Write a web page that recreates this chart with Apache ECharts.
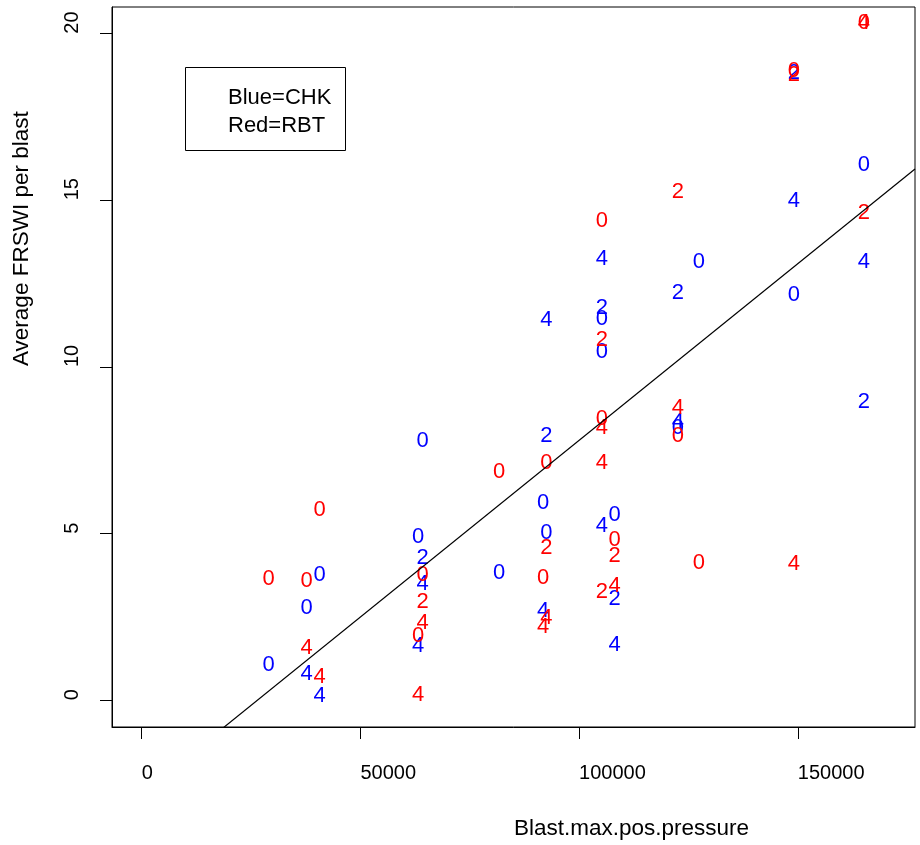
<!DOCTYPE html>
<html><head><meta charset="utf-8">
<script src="https://cdn.jsdelivr.net/npm/echarts@6/dist/echarts.min.js"></script>
<style>html,body{margin:0;padding:0;background:#fff}#c{width:920px;height:845px}</style>
</head><body><div id="c"></div>
<script>
// ---- data (Blue = CHK, Red = RBT); text label = distance code ----
const chkX = [27600,36300,39300,36300,39300,62800,61800,62800,62800,61800,80300,90400,91100,91100,91100,90400,103800,103800,103800,103800,103800,106700,106700,106700,121200,121200,121200,126000,147700,147700,147700,163700,163700,163700];
const chkY = [1.10,2.82,3.80,0.84,0.18,7.82,4.95,4.32,3.53,1.68,3.87,5.97,5.06,7.98,11.45,2.73,13.29,11.81,11.49,10.50,5.28,5.61,3.09,1.70,12.27,8.40,8.21,13.20,18.87,15.02,12.20,16.10,13.20,9.00];
const chkLab = ['0','0','0','4','4','0','0','2','4','4','0','0','0','2','4','4','4','2','0','0','4','0','2','4','2','4','0','0','2','4','0','0','4','2'];

const rbtX = [27600,36300,36300,39300,39300,62800,62800,62800,61800,61800,80300,91100,91100,90400,91100,90400,103800,103800,103800,103800,103800,103800,106700,106700,106700,121200,121200,121200,126000,147700,147700,147700,163700,163700,163700];
const rbtY = [3.70,3.62,1.62,5.75,0.75,3.80,3.00,2.37,1.97,0.20,6.89,7.16,4.62,3.71,2.51,2.25,14.42,10.85,8.49,8.22,7.16,3.29,4.85,4.38,3.48,15.30,8.81,7.97,4.16,18.93,18.81,4.14,20.38,20.36,14.67];
const rbtLab = ['0','0','4','0','4','0','2','4','0','4','0','0','2','0','4','4','0','2','0','4','4','2','0','2','4','2','4','0','0','0','2','4','0','4','2'];

// fitted line (abline) coefficients
const lineIntercept = -2.80;
const lineSlope = 1.06e-4;

// axes
const xTicks = [0, 50000, 100000, 150000];
const yTicks = [0, 5, 10, 15, 20];
const xMin = -6800, xMax = 176800;
const yMin = -0.8, yMax = 20.8;

const FONT = "'Liberation Sans', Arial, Helvetica, sans-serif";

function pts(xs, ys, labs) { return xs.map((x, i) => [x, ys[i], labs[i]]); }

function textSeries(name, data, color) {
  return {
    name, type: 'scatter', data,
    symbol: 'circle', symbolSize: 1,
    itemStyle: { color: 'rgba(0,0,0,0)' },
    label: {
      show: true, position: 'inside', align: 'left', verticalAlign: 'middle',
      offset: [0, 1.5], opacity: 1,
      formatter: p => p.value[2],
      color, fontSize: 22, fontFamily: FONT
    },
    emphasis: { disabled: true },
    silent: true, z: 3
  };
}

const chart = echarts.init(document.getElementById('c'), null, { renderer: 'canvas' });
chart.setOption({
  animation: false,
  backgroundColor: '#fff',
  grid: { left: 112, top: 7, right: 5, bottom: 118, show: true, borderColor: '#000', borderWidth: 1, backgroundColor: 'transparent', containLabel: false, outerBoundsMode: 'none' },
  xAxis: {
    type: 'value', min: xMin, max: xMax,
    splitLine: { show: false },
    axisLine: { show: true, onZero: false, lineStyle: { color: '#000', width: 1 } },
    axisTick: { show: true, length: 12, inside: false, customValues: xTicks, lineStyle: { color: '#000', width: 1 } },
    axisLabel: { show: true, customValues: xTicks, margin: 36, align: 'left', color: '#000', fontSize: 20, fontFamily: FONT, formatter: v => String(v) }
  },
  yAxis: {
    type: 'value', min: yMin, max: yMax,
    splitLine: { show: false },
    axisLine: { show: true, onZero: false, lineStyle: { color: '#000', width: 1 } },
    axisTick: { show: true, length: 12, inside: false, customValues: yTicks, lineStyle: { color: '#000', width: 1 } },
    axisLabel: { show: true, customValues: yTicks, rotate: 90, margin: 30, align: 'left', color: '#000', fontSize: 20, fontFamily: FONT, formatter: v => String(v) }
  },
  series: [
    textSeries('CHK', pts(chkX, chkY, chkLab), '#0000ff'),
    textSeries('RBT', pts(rbtX, rbtY, rbtLab), '#ff0000'),
    {
      name: 'fit', type: 'line', clip: true, symbol: 'none', silent: true, z: 4,
      data: [[xMin, lineIntercept + lineSlope * xMin], [xMax, lineIntercept + lineSlope * xMax]],
      lineStyle: { color: '#000', width: 1.2 }
    }
  ],
  graphic: [
    { type: 'rect', shape: { x: 185.5, y: 67.5, width: 160, height: 83 }, style: { fill: '#fff', stroke: '#000', lineWidth: 1 }, z: 10 },
    { type: 'text', x: 228, y: 98, style: { text: 'Blue=CHK', fill: '#000', font: '22px ' + FONT, verticalAlign: 'middle' }, z: 11 },
    { type: 'text', x: 228, y: 126, style: { text: 'Red=RBT', fill: '#000', font: '22px ' + FONT, verticalAlign: 'middle' }, z: 11 },
    { type: 'text', x: 514, y: 829, style: { text: 'Blast.max.pos.pressure', fill: '#000', font: '22.5px ' + FONT, align: 'left', verticalAlign: 'middle' }, z: 11 },
    { type: 'text', x: 22, y: 366, rotation: Math.PI / 2, style: { text: 'Average FRSWI per blast', fill: '#000', font: '22.5px ' + FONT, align: 'left', verticalAlign: 'middle' }, z: 11 }
  ]
});
</script>
</body></html>
